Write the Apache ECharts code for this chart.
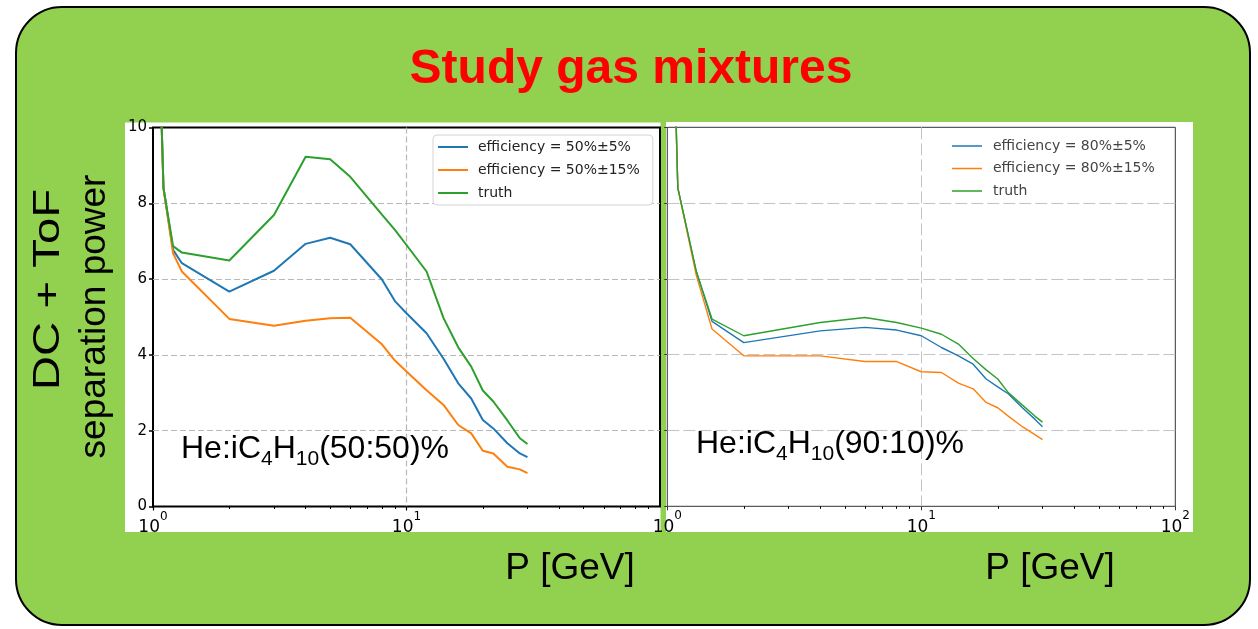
<!DOCTYPE html>
<html>
<head>
<meta charset="utf-8">
<script src="https://cdn.jsdelivr.net/npm/echarts@6/dist/echarts.min.js"></script>
<style>html,body{margin:0;padding:0;background:#fff}#c{width:1258px;height:629px}</style>
</head>
<body>
<div id="c"></div>
<script>
// ---- data ----
const leftP = [1.05, 1.1, 1.2, 1.3, 2, 3, 4, 5, 6, 8, 9, 10, 12, 14, 16, 18, 20, 22, 25, 28, 30];
const leftEff5  = [13, 8.4, 6.77, 6.42, 5.67, 6.22, 6.93, 7.09, 6.92, 5.99, 5.42, 5.1, 4.57, 3.9, 3.25, 2.85, 2.28, 2.06, 1.67, 1.40, 1.30];
const leftEff15 = [13, 8.4, 6.68, 6.2, 4.95, 4.77, 4.90, 4.97, 4.98, 4.28, 3.85, 3.56, 3.07, 2.68, 2.15, 1.93, 1.47, 1.40, 1.05, 0.98, 0.88];
const leftTruth = [13, 8.4, 6.87, 6.70, 6.49, 7.69, 9.23, 9.16, 8.70, 7.7, 7.3, 6.9, 6.2, 4.97, 4.2, 3.69, 3.06, 2.77, 2.27, 1.80, 1.65];

const rightP = [1.05, 1.1, 1.3, 1.5, 2, 4, 6, 8, 10, 12, 14, 16, 18, 20, 22, 25, 28, 30];
const rightEff5  = [13.5, 8.4, 6.2, 4.88, 4.32, 4.63, 4.72, 4.65, 4.5, 4.19, 3.97, 3.75, 3.36, 3.15, 2.97, 2.6, 2.3, 2.1];
const rightEff15 = [13.5, 8.4, 6.1, 4.68, 3.97, 3.97, 3.82, 3.82, 3.55, 3.53, 3.25, 3.1, 2.74, 2.6, 2.38, 2.1, 1.89, 1.76];
const rightTruth = [13.5, 8.4, 6.2, 4.94, 4.5, 4.85, 4.98, 4.85, 4.70, 4.54, 4.28, 3.9, 3.6, 3.36, 3.0, 2.67, 2.38, 2.22];

const leftNames = ['efficiency = 50%±5%', 'efficiency = 50%±15%', 'truth'];
const rightNames = ['efficiency = 80%±5%', 'efficiency = 80%±15%', 'truth'];
const minorTickValues = [2, 3, 4, 5, 6, 7, 8, 9, 20, 30, 40, 50, 60, 70, 80, 90];
const titleText = 'Study gas mixtures';
const yTitle1 = 'DC + ToF';
const yTitle2 = 'separation power';
const xTitle = 'P [GeV]';
const leftMix = ['He:iC', '4', 'H', '10', '(50:50)%'];
const rightMix = ['He:iC', '4', 'H', '10', '(90:10)%'];

const C_BLUE = '#1f77b4', C_ORANGE = '#ff7f0e', C_GREEN = '#2ca02c';

const chart = echarts.init(document.getElementById('c'), null, {renderer: 'canvas'});

function pairs(xs, ys) { return xs.map((x, i) => [x, ys[i]]); }
function supLabel(v) { return '{b|10}{s|' + Math.round(Math.log10(v)) + '}'; }
const supRich = {
  b: {fontSize: 17, fontFamily: 'DejaVu Sans', color: '#000', lineHeight: 26, verticalAlign: 'bottom'},
  s: {fontSize: 12, fontFamily: 'DejaVu Sans', color: '#000', lineHeight: 12, verticalAlign: 'top'}
};
function mixText(parts) {
  return '{m|' + parts[0] + '}{s|' + parts[1] + '}{m|' + parts[2] + '}{s|' + parts[3] + '}{m|' + parts[4] + '}';
}
const mixRich = {
  m: {fontSize: 32, fontFamily: 'Liberation Sans', lineHeight: 36, verticalAlign: 'top'},
  s: {fontSize: 21, fontFamily: 'Liberation Sans', lineHeight: 22, padding: [16, 0, 0, 0], verticalAlign: 'top'}
};

function mainX(gi, opts) {
  return Object.assign({
    type: 'log', logBase: 10, min: 1, max: 100, gridIndex: gi, position: 'bottom',
    axisLine: {show: false},
    axisTick: {show: true, length: 4, lineStyle: {color: '#000', width: 1.2}},
    axisLabel: {formatter: supLabel, rich: supRich, margin: 4},
    splitLine: {show: true, showMinLine: false, showMaxLine: false, lineStyle: {color: '#b8b8b8', width: 1.2, type: [6, 3]}},
    minorTick: {show: false}
  }, opts);
}
function minorX(gi) {
  return {
    type: 'log', logBase: 10, min: 1, max: 100, gridIndex: gi, position: 'bottom',
    axisLine: {show: false}, axisLabel: {show: false}, splitLine: {show: false},
    axisTick: {show: true, length: 2.5, customValues: minorTickValues, lineStyle: {color: '#000', width: 1}}
  };
}

const option = {
  backgroundColor: '#fff',
  animation: false,
  graphic: [
    {type: 'rect', z: -20, shape: {x: 16, y: 7, width: 1234, height: 618, r: 46},
     style: {fill: '#92D050', stroke: '#000', lineWidth: 2}},
    {type: 'rect', z: -19, shape: {x: 125, y: 122.5, width: 535.5, height: 409.5}, style: {fill: '#fff'}},
    {type: 'rect', z: -19, shape: {x: 666, y: 122, width: 527, height: 410}, style: {fill: '#fff'}},
    {type: 'text', z: 10, x: 631, y: 70,
     style: {text: titleText, font: 'bold 48px "Liberation Sans", Arial', fill: '#ff0000', align: 'center', verticalAlign: 'middle'}},
    {type: 'text', z: 10, x: 49, y: 289.5, rotation: Math.PI / 2, scaleX: 1.28,
     style: {text: yTitle1, font: '37px "Liberation Sans", Arial', fill: '#000', align: 'center', verticalAlign: 'middle'}},
    {type: 'text', z: 10, x: 94.5, y: 316.5, rotation: Math.PI / 2,
     style: {text: yTitle2, font: '37px "Liberation Sans", Arial', fill: '#000', align: 'center', verticalAlign: 'middle'}},
    {type: 'text', z: 10, x: 570, y: 569,
     style: {text: xTitle, font: '37px "Liberation Sans", Arial', fill: '#000', align: 'center', verticalAlign: 'middle'}},
    {type: 'text', z: 10, x: 1050, y: 569,
     style: {text: xTitle, font: '37px "Liberation Sans", Arial', fill: '#000', align: 'center', verticalAlign: 'middle'}},
    {type: 'text', z: 10, x: 181, y: 433,
     style: {text: mixText(leftMix), rich: mixRich, fill: '#000', font: '32px "Liberation Sans"', align: 'left', verticalAlign: 'top'}},
    {type: 'text', z: 10, x: 696, y: 428,
     style: {text: mixText(rightMix), rich: mixRich, fill: '#000', font: '32px "Liberation Sans"', align: 'left', verticalAlign: 'top'}}
  ],
  grid: [
    {left: 153, top: 127.5, width: 507, height: 379, show: true, borderColor: '#000', borderWidth: 2, backgroundColor: 'transparent'},
    {left: 667.3, top: 127.3, width: 508, height: 379, show: true, borderColor: '#333', borderWidth: 1, backgroundColor: 'transparent'}
  ],
  xAxis: [
    mainX(0, {axisLabel: {formatter: supLabel, rich: supRich, margin: 4, showMaxLabel: false}}),
    mainX(1, {splitLine: {show: true, showMinLine: false, showMaxLine: false, lineStyle: {color: '#c4c4c4', width: 1, type: [12, 4]}},
              axisTick: {show: true, length: 4, lineStyle: {color: '#333', width: 1}}}),
    minorX(0),
    minorX(1)
  ],
  yAxis: [
    {type: 'value', gridIndex: 0, min: 0, max: 10, interval: 2,
     axisLine: {show: false},
     axisTick: {show: true, length: 4, lineStyle: {color: '#000', width: 1.5}},
     axisLabel: {fontSize: 15, fontFamily: 'DejaVu Sans', color: '#000', margin: 6},
     splitLine: {show: true, showMinLine: false, showMaxLine: false, lineStyle: {color: '#b8b8b8', width: 1.2, type: [6, 3]}}},
    {type: 'value', gridIndex: 1, min: 0, max: 10, interval: 2,
     axisLine: {show: false},
     axisTick: {show: true, length: 3, lineStyle: {color: '#333', width: 1}},
     axisLabel: {show: false},
     splitLine: {show: true, showMinLine: false, showMaxLine: false, lineStyle: {color: '#c4c4c4', width: 1, type: [12, 4]}}}
  ],
  legend: [
    {data: leftNames, left: 433, top: 135, orient: 'vertical', icon: 'rect', itemWidth: 30, itemHeight: 2, itemGap: 7,
     padding: [4, 13, 4, 5], borderColor: '#d4d4d4', borderWidth: 1, borderRadius: 4, backgroundColor: '#fff',
     textStyle: {fontFamily: 'DejaVu Sans', fontSize: 14, color: '#222', lineHeight: 16, padding: [0, 0, 0, 5]},
     selectedMode: false},
    {data: rightNames, left: 947, top: 134, orient: 'vertical', icon: 'rect', itemWidth: 30, itemHeight: 1.5, itemGap: 6.5,
     padding: [4, 5, 4, 5],
     textStyle: {fontFamily: 'DejaVu Sans', fontSize: 14, color: '#444', lineHeight: 16, padding: [0, 0, 0, 6]},
     selectedMode: false}
  ],
  series: [
    {name: leftNames[0], type: 'line', xAxisIndex: 0, yAxisIndex: 0, data: pairs(leftP, leftEff5), showSymbol: false, symbol: 'none', color: C_BLUE, lineStyle: {width: 2}},
    {name: leftNames[1], type: 'line', xAxisIndex: 0, yAxisIndex: 0, data: pairs(leftP, leftEff15), showSymbol: false, symbol: 'none', color: C_ORANGE, lineStyle: {width: 2}},
    {name: leftNames[2], type: 'line', xAxisIndex: 0, yAxisIndex: 0, data: pairs(leftP, leftTruth), showSymbol: false, symbol: 'none', color: C_GREEN, lineStyle: {width: 2}},
    {name: rightNames[0], type: 'line', xAxisIndex: 1, yAxisIndex: 1, data: pairs(rightP, rightEff5), showSymbol: false, symbol: 'none', color: C_BLUE, lineStyle: {width: 1.4}},
    {name: rightNames[1], type: 'line', xAxisIndex: 1, yAxisIndex: 1, data: pairs(rightP, rightEff15), showSymbol: false, symbol: 'none', color: C_ORANGE, lineStyle: {width: 1.4}},
    {name: rightNames[2], type: 'line', xAxisIndex: 1, yAxisIndex: 1, data: pairs(rightP, rightTruth), showSymbol: false, symbol: 'none', color: C_GREEN, lineStyle: {width: 1.4}}
  ]
};
chart.setOption(option);
</script>
</body>
</html>
